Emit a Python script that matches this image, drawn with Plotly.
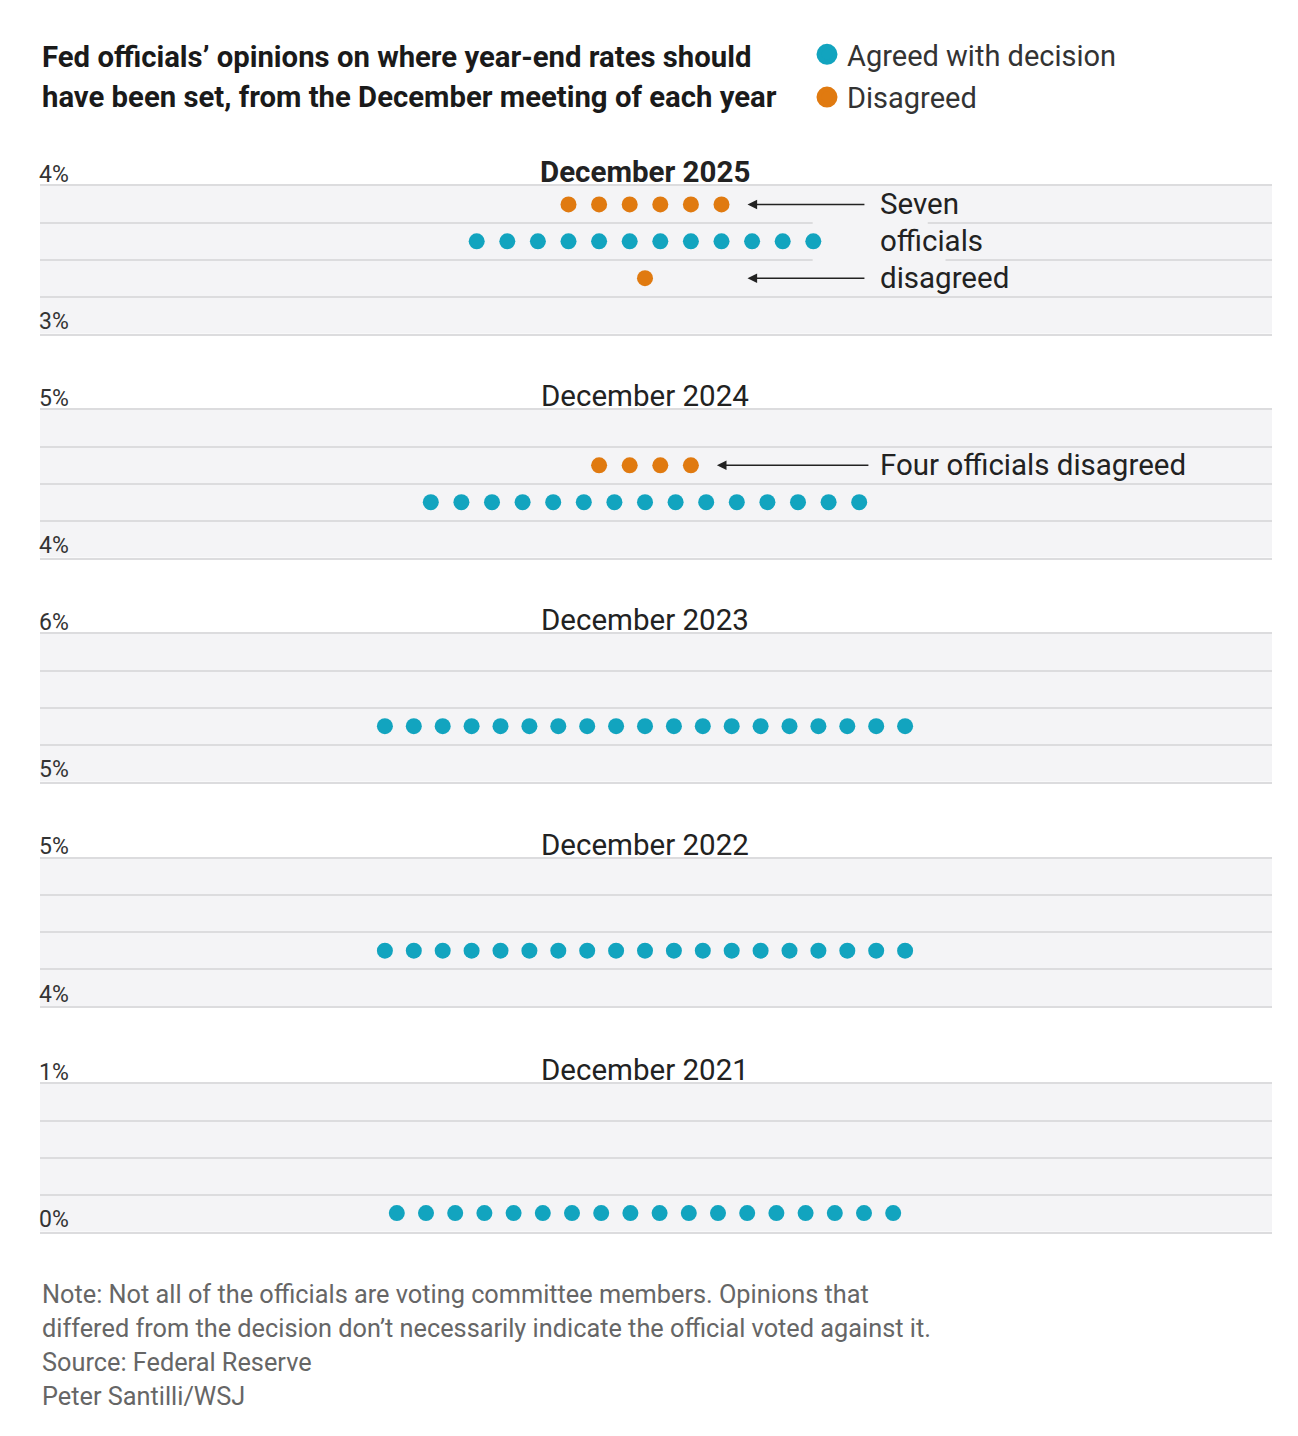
import numpy as np
import plotly.graph_objects as go

# ---------------- data ----------------
panel_titles = ["December 2025", "December 2024", "December 2023", "December 2022", "December 2021"]
axis_low = [3, 4, 5, 4, 0]
axis_high = [4, 5, 6, 5, 1]
agreed_rate = [3.625, 4.375, 5.375, 4.375, 0.125]
agreed_count = [12, 15, 19, 19, 18]
disagreed_rate = [[3.875, 3.375], [4.625], [], [], []]
disagreed_count = [[6, 1], [4], [], [], []]

title_lines = ["Fed officials’ opinions on where year-end rates should",
               "have been set, from the December meeting of each year"]
legend_labels = ["Agreed with decision", "Disagreed"]
note_lines = ["Note: Not all of the officials are voting committee members. Opinions that",
              "differed from the decision don’t necessarily indicate the official voted against it.",
              "Source: Federal Reserve",
              "Peter Santilli/WSJ"]

# ---------------- style ----------------
TEAL = "#12a4bf"
ORANGE = "#e07a10"
PLOT_BG = "#f4f4f6"
GRID = "#dcdcde"
TEXT = "#222222"
FONT = "Roboto"
OFF = 8                      # page body margin
PAGE_W, PAGE_H = 1298, 1436
W, H = PAGE_W - OFF, PAGE_H - OFF
PLOT_L, PLOT_R, PLOT_T, PLOT_B = 40, 1272, 186, 1232   # page px
M_L, M_R = PLOT_L - OFF, PAGE_W - PLOT_R
M_T, M_B = PLOT_T - OFF, PAGE_H - PLOT_B
PLOT_H = PLOT_B - PLOT_T
PLOT_W = PLOT_R - PLOT_L
CENTER_PX = 645
panel_top_px = [186, 410, 634, 858.5, 1084]
panel_h_px = 147.5
dot_spacing_px = [30.6, 30.6, 28.9, 28.9, 29.2]


def py2paper(py):
    return (PLOT_B - py) / PLOT_H


def px2paper(px):
    return (px - PLOT_L) / PLOT_W


fig = go.Figure()
layout = dict(
    width=W, height=H,
    margin=dict(l=M_L, r=M_R, t=M_T, b=M_B),
    paper_bgcolor="white", plot_bgcolor=PLOT_BG,
    font=dict(family=FONT, color=TEXT),
    showlegend=True,
    legend=dict(xref="paper", yref="paper", x=px2paper(807), y=py2paper(29),
                xanchor="left", yanchor="top", font=dict(size=29, color="#333333"),
                tracegroupgap=2, bgcolor="rgba(0,0,0,0)", itemclick=False),
)
annotations = []
shapes = []


def dots_x(n):
    return np.arange(n) - (n - 1) / 2.0


for i in range(len(panel_titles)):
    k = "" if i == 0 else str(i + 1)
    xname, yname = "x" + k, "y" + k
    u = dot_spacing_px[i]
    top = panel_top_px[i]
    bot = top + panel_h_px
    lo, hi = axis_low[i], axis_high[i]
    tv = list(np.linspace(lo, hi, 5))
    tt = [f"{lo}%"] + [""] * 3 + [f"{hi}%"]
    layout["xaxis" + k] = dict(
        domain=[0, 1], anchor=yname,
        range=[-(CENTER_PX - PLOT_L) / u, (PLOT_R - CENTER_PX) / u],
        showgrid=False, zeroline=False, showticklabels=False,
        showline=True, mirror=True, linecolor=GRID, linewidth=2, fixedrange=True)
    layout["yaxis" + k] = dict(
        domain=[py2paper(bot), py2paper(top)], anchor=xname,
        range=[lo, hi], tickvals=tv, ticktext=tt, ticks="",
        ticklabelposition="inside top", ticklabeloverflow="allow",
        ticklabelstandoff=-4, ticklabelshift=4,
        tickfont=dict(size=23, color="#333333"),
        showgrid=True, gridcolor=GRID, gridwidth=2, zeroline=False,
        showline=False, fixedrange=True)

    n = agreed_count[i]
    fig.add_trace(go.Scatter(
        x=dots_x(n), y=[agreed_rate[i]] * n, mode="markers",
        marker=dict(color=TEAL, size=16), xaxis=xname, yaxis=yname,
        showlegend=False, name=legend_labels[0],
        hovertemplate=panel_titles[i] + ": %{y:.3f}%<extra></extra>"))
    for r, c in zip(disagreed_rate[i], disagreed_count[i]):
        fig.add_trace(go.Scatter(
            x=dots_x(c), y=[r] * c, mode="markers",
            marker=dict(color=ORANGE, size=16), xaxis=xname, yaxis=yname,
            showlegend=False, name=legend_labels[1],
            hovertemplate=panel_titles[i] + ": %{y:.3f}%<extra></extra>"))

    title = panel_titles[i]
    annotations.append(dict(
        x=0, y=hi, xref=xname, yref=yname, yanchor="middle", yshift=14,
        text=f"<b>{title}</b>" if i == 0 else title,
        showarrow=False, font=dict(size=29.5, color=TEXT)))

# ---------------- callouts ----------------
TEXT_X = 7.6
# December 2025
head = (disagreed_count[0][0] - 1) / 2.0 + 0.85
rows = [disagreed_rate[0][0], agreed_rate[0], disagreed_rate[0][1]]
for word, yv in zip(["Seven", "officials", "disagreed"], rows):
    annotations.append(dict(x=TEXT_X, y=yv, xref="x", yref="y", xanchor="left",
                            yanchor="middle", text=word, showarrow=False,
                            font=dict(size=29.5, color=TEXT)))
for yv in (rows[0], rows[2]):
    annotations.append(dict(x=head, y=yv, ax=TEXT_X - 0.38, ay=yv, xref="x", yref="y",
                            axref="x", ayref="y", text="", showarrow=True,
                            arrowhead=2, arrowsize=1.2, arrowwidth=1.6, arrowcolor=TEXT))
for yb, x1 in ((3.75, 9.24), (3.5, 9.82)):
    shapes.append(dict(type="rect", xref="x", yref="y", x0=5.48, x1=x1,
                       y0=yb - 0.03, y1=yb + 0.03, fillcolor=PLOT_BG,
                       line=dict(width=0), layer="between"))
# December 2024
head2 = (disagreed_count[1][0] - 1) / 2.0 + 0.85
annotations.append(dict(x=TEXT_X, y=disagreed_rate[1][0], xref="x2", yref="y2",
                        xanchor="left", yanchor="middle", text="Four officials disagreed",
                        showarrow=False, font=dict(size=29.5, color=TEXT)))
annotations.append(dict(x=head2, y=disagreed_rate[1][0], ax=TEXT_X - 0.25,
                        ay=disagreed_rate[1][0], xref="x2", yref="y2", axref="x2",
                        ayref="y2", text="", showarrow=True, arrowhead=2,
                        arrowsize=1.2, arrowwidth=1.6, arrowcolor=TEXT))

# ---------------- legend entries ----------------
for lab, col in zip(legend_labels, [TEAL, ORANGE]):
    fig.add_trace(go.Scatter(x=[None], y=[None], mode="markers", name=lab,
                             legendgroup=lab,
                             marker=dict(color=col, size=16, line=dict(color=col, width=5)),
                             showlegend=True, hoverinfo="skip"))

# ---------------- title & notes ----------------
for j, line in enumerate(title_lines):
    py = 57 + 40 * j
    annotations.append(dict(x=0, y=py2paper(py), xref="paper", yref="paper",
                            xanchor="left", yanchor="middle", text=f"<b>{line}</b>",
                            showarrow=False, align="left",
                            font=dict(size=29.3, color="#1a1a1a")))
for j, line in enumerate(note_lines):
    py = 1294 + 34 * j
    annotations.append(dict(x=0, y=py2paper(py), xref="paper", yref="paper",
                            xanchor="left", yanchor="middle", text=line,
                            showarrow=False, align="left",
                            font=dict(size=25.3, color="#666666")))

layout["annotations"] = annotations
layout["shapes"] = shapes
fig.update_layout(**layout)
fig.write_html("out.html")
